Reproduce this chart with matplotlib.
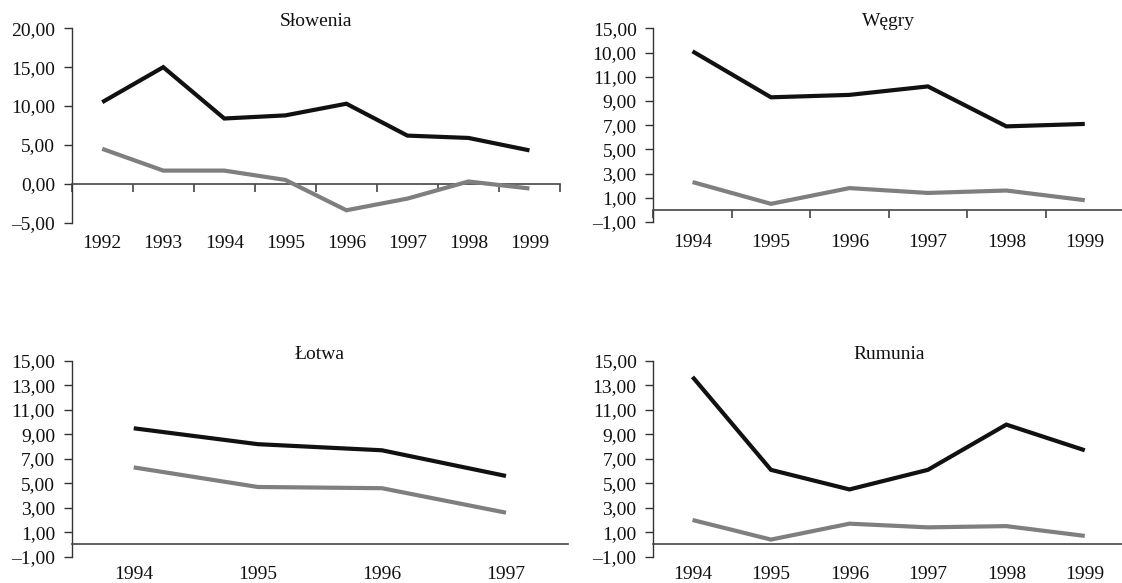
import matplotlib
matplotlib.use("Agg")
import matplotlib.pyplot as plt
import numpy as np

plt.rcParams['font.family'] = ['Liberation Serif', 'DejaVu Serif']

# --- data ---
years_slo = ["1992", "1993", "1994", "1995", "1996", "1997", "1998", "1999"]
slo_black = [10.5, 15.0, 8.4, 8.8, 10.3, 6.2, 5.9, 4.3]
slo_gray = [4.5, 1.7, 1.7, 0.5, -3.4, -1.9, 0.3, -0.6]

years_weg = ["1994", "1995", "1996", "1997", "1998", "1999"]
weg_black = [13.1, 9.3, 9.5, 10.2, 6.9, 7.1]
weg_gray = [2.3, 0.5, 1.8, 1.4, 1.6, 0.8]

years_lot = ["1994", "1995", "1996", "1997"]
lot_black = [9.5, 8.2, 7.7, 5.6]
lot_gray = [6.3, 4.7, 4.6, 2.6]

years_rum = ["1994", "1995", "1996", "1997", "1998", "1999"]
rum_black = [13.7, 6.1, 4.5, 6.1, 9.8, 7.7]
rum_gray = [2.0, 0.4, 1.7, 1.4, 1.5, 0.7]

yt_slo = [20, 15, 10, 5, 0, -5]
yl_slo = ["20,00", "15,00", "10,00", "5,00", "0,00", "–5,00"]
yt_odd = [15, 13, 11, 9, 7, 5, 3, 1, -1]
yl_weg = ["15,00", "10,00", "11,00", "9,00", "7,00", "5,00", "3,00", "1,00", "–1,00"]
yl_odd = ["15,00", "13,00", "11,00", "9,00", "7,00", "5,00", "3,00", "1,00", "–1,00"]

W, H = 1122, 583
fig = plt.figure(figsize=(W / 100, H / 100), dpi=100)


def make_axes(left, top, right, bottom):
    return fig.add_axes([left / W, 1 - bottom / H, (right - left) / W, (bottom - top) / H])


panels = [
    # title, years, black, gray, yticks, ylabels, ylim, box(px), boundary ticks, label gap(px)
    ("Słowenia", years_slo, slo_black, slo_gray, yt_slo, yl_slo, (-5, 20), (71.7, 28.3, 560, 222.7), True, 12),
    ("Węgry", years_weg, weg_black, weg_gray, yt_odd, yl_weg, (-1, 15), (653.3, 28.3, 1124, 222), True, 12),
    ("Łotwa", years_lot, lot_black, lot_gray, yt_odd, yl_odd, (-1, 15), (71.7, 361, 568, 556.7), False, 9),
    ("Rumunia", years_rum, rum_black, rum_gray, yt_odd, yl_odd, (-1, 15), (653.3, 361, 1124, 556.7), False, 9),
]

for title, years, black, gray, yt, yl, ylim, box, boundary_ticks, gap in panels:
    ax = make_axes(*box)
    x = np.arange(len(years))
    ax.plot(x, gray, color='#7f7f7f', lw=3.0, solid_capstyle='butt', solid_joinstyle='miter', zorder=3)
    ax.plot(x, black, color='#111111', lw=3.0, solid_capstyle='butt', solid_joinstyle='miter', zorder=4)
    ax.set_xlim(-0.5, len(years) - 0.5)
    ax.set_ylim(*ylim)

    for s in ['top', 'right']:
        ax.spines[s].set_visible(False)
    ax.spines['left'].set_color('#333333')
    ax.spines['left'].set_linewidth(1.0)
    ax.spines['bottom'].set_position(('data', 0))
    ax.spines['bottom'].set_color('#444444')
    ax.spines['bottom'].set_linewidth(1.2)

    ax.set_yticks(yt)
    ax.set_yticklabels(yl)
    ax.tick_params(axis='y', direction='out', length=6, width=1.0, color='#333333',
                   pad=6, labelsize=14, labelcolor='#111111')

    # year labels sit below the plot, tick marks hang from the zero line
    box_h = box[3] - box[1]
    zero_px = (0 - ylim[0]) / (ylim[1] - ylim[0]) * box_h
    ax.set_xticks(x)
    ax.set_xticklabels(years)
    ax.tick_params(axis='x', which='major', length=0, pad=(zero_px + gap) * 0.72,
                   labelsize=14, labelcolor='#111111')
    if boundary_ticks:
        ax.set_xticks(np.arange(len(years) + 1) - 0.5, minor=True)
        ax.tick_params(axis='x', which='minor', direction='out', length=6, width=1.2, color='#444444')

    cx = (box[0] + box[2]) / 2
    fig.text(cx / W, 1 - (box[1] - 2) / H, title, ha='center', va='baseline', fontsize=14, color='#111111')

fig.savefig("out.png", dpi=100)
